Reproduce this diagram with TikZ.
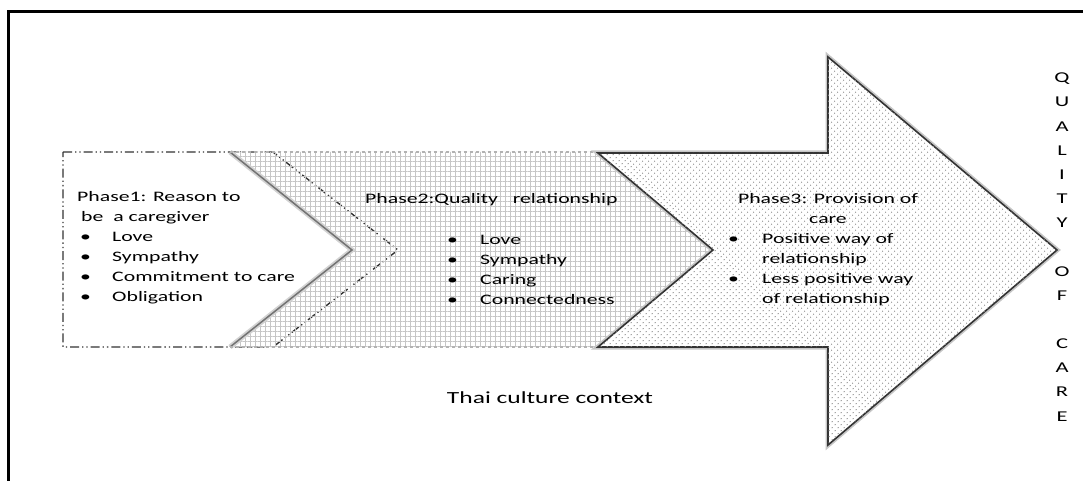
\documentclass[tikz,border=0pt]{standalone}
\usepackage{fontspec}
\setmainfont{Carlito}[FakeStretch=1.5]
\usetikzlibrary{patterns.meta}

% bullet with a fixed hang before the item text
\newcommand{\itm}[2][32pt]{\hspace{3pt}\makebox[#1][l]{\textbullet}#2}

\begin{document}
\begin{tikzpicture}[x=1pt, y=-1pt,
  body/.style={font=\fontsize{14.5}{20}\selectfont, inner sep=0pt, align=left},
  phaseone/.style={fill=white, draw=black!80, line width=1.4pt,
    dash pattern=on 9pt off 3pt on 1.3pt off 3pt on 1.3pt off 3pt},
  phasetwo/.style={pattern={Hatch[angle=0, distance=5pt, line width=0.45pt]},
    pattern color=gray!45},
  edge/.style={draw=black!55, line width=1.5pt, preaction={draw=gray!35, line width=5pt}},
  phasethree/.style={fill=white, draw=black!80, line width=1.6pt,
    preaction={draw=gray!45, line width=5pt},
    postaction={pattern={Dots[radius=0.7pt, distance=4pt, angle=45]}, pattern color=gray!85}},
]
  \useasboundingbox (0,0) rectangle (1083,481);
  \clip (0,0) rectangle (1083,481);

  % frame
  \draw[line width=3pt] (8.5,490) -- (8.5,11.5) -- (1090,11.5);

  % phase 1 chevron
  \path[phaseone] (63,152) -- (273,152) -- (398,250) -- (273,347) -- (63,347) -- cycle;

  % phase 2 chevron, grid
  \path[phasetwo] (230,152) -- (598,152) -- (713,250) -- (598,347) -- (230,347) -- (352,250) -- cycle;
  \path[edge] (230,152) -- (352,250) -- (230,347);
  \draw[gray!60, line width=1.3pt, dashed] (230,152) -- (598,152);
  \draw[gray!60, line width=1.3pt, dashed] (230,347) -- (598,347);

  % phase 3 arrow
  \path[phasethree] (598,153) -- (828,153) -- (828,57) -- (1057,250) -- (828,445)
    -- (828,347) -- (598,347) -- (713,250) -- cycle;

  % texts (multi-line nodes sit on the baseline of their last line)
  \node[body, anchor=base west] (p1text) at (77,301.5)
    {Phase1: Reason to\\
     \hspace{4pt}be\ \ a caregiver\\
     \itm{Love}\\
     \itm{Sympathy}\\
     \itm{Commitment to care}\\
     \itm{Obligation}};

  \node[body, anchor=base west] (p2head) at (365,203.5) {Phase2:Quality\ \ \ relationship};
  \node[body, anchor=base west] (p2list) at (444,304.5)
    {\itm[33pt]{Love}\\
     \itm[33pt]{Sympathy}\\
     \itm[33pt]{Caring}\\
     \itm[33pt]{Connectedness}};

  \node[body, align=center, anchor=base] (p3head) at (828,223.5) {Phase3: Provision of\\care};
  \node[body, anchor=base west] (p3list) at (725,303.5)
    {\itm[34pt]{Positive way of}\\
     \hspace{37pt}relationship\\
     \itm[34pt]{Less positive way}\\
     \hspace{37pt}of relationship};

  \node[body, font=\fontsize{17}{20}\selectfont, anchor=base] (context) at (550,403) {Thai culture context};

  \node[body, align=center, font=\fontsize{15}{24.2}\selectfont] (outcome) at (1062,247)
    {Q\\U\\A\\L\\I\\T\\Y\\[24pt]O\\F\\[24pt]C\\A\\R\\E};
\end{tikzpicture}
\end{document}
